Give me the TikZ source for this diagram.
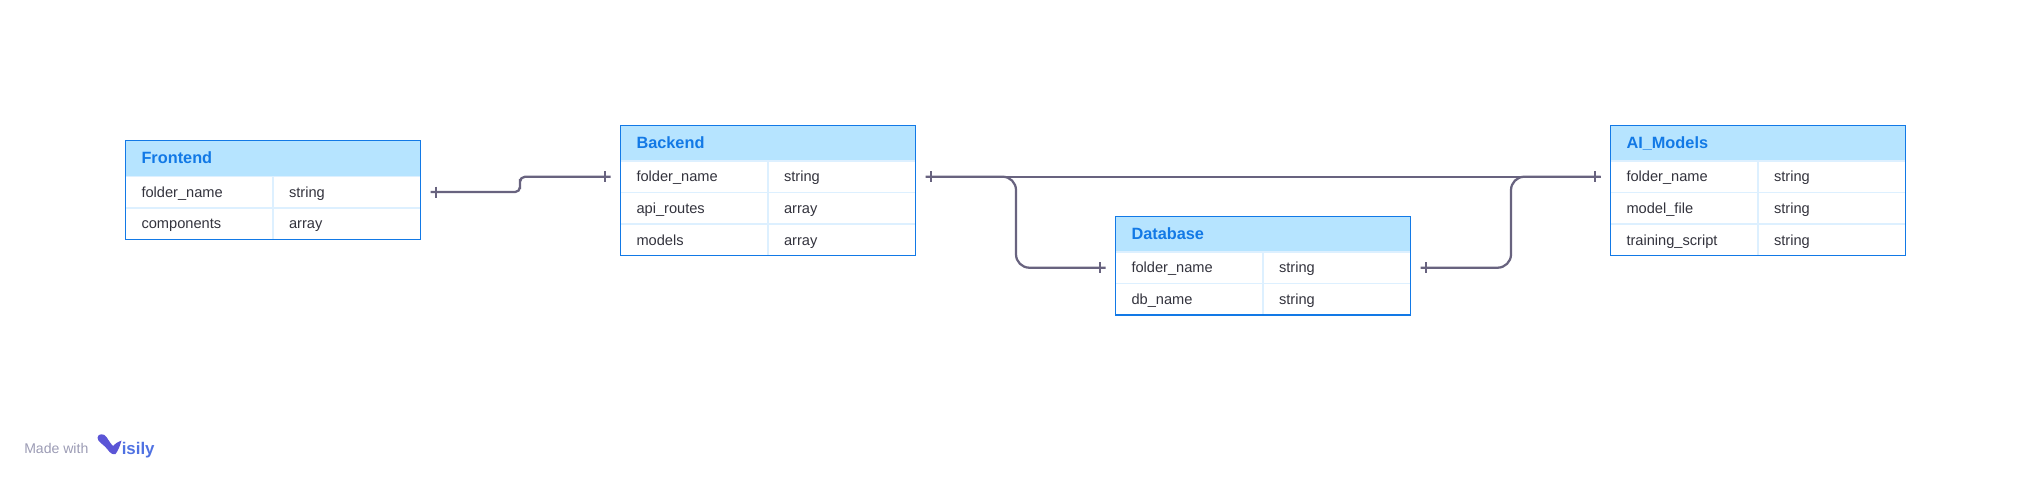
\documentclass[tikz,border=0pt]{standalone}
\usepackage{fontspec}
\setmainfont{Liberation Sans}
\definecolor{framecol}{HTML}{1279E6}
\definecolor{headcol}{HTML}{B6E4FF}
\definecolor{gridcol}{HTML}{DDF0FF}
\definecolor{linkcol}{HTML}{68637F}
\definecolor{cellcol}{HTML}{33333D}
\definecolor{madecol}{HTML}{9B9BB4}
\definecolor{logocol}{HTML}{5B55D6}
\definecolor{logotext}{HTML}{4F71E2}
\tikzset{
  headbox/.style={fill=headcol, minimum width=7.375cm, minimum height=0.89cm, inner xsep=0.4cm, outer sep=0pt,
    text width=6.575cm, align=left, text=framecol, font=\fontsize{11.6}{14}\selectfont\bfseries, text height=7.1pt, text depth=0pt},
  cellbox/.style={draw=gridcol, line width=1pt, minimum width=3.6875cm, minimum height=0.79cm, inner xsep=0.4cm, outer sep=0pt,
    text width=2.8875cm, align=left, text=cellcol, font=\fontsize{10.4}{13}\selectfont, text height=8.7pt, text depth=1.2pt},
  framebox/.style={draw=framecol, line width=0.95pt},
  linkline/.style={draw=linkcol, line width=1.6pt},
  tickline/.style={draw=linkcol, line width=1.3pt}
}
\begin{document}
\begin{tikzpicture}[x=0.025cm, y=-0.025cm]
        \useasboundingbox (0,0) rectangle (2030,480);

        % Frontend
        \node [headbox, anchor=north west] (fronthead) at (125.5,140.7) {Frontend};
        \node [cellbox, anchor=north west] (frontname) at (125.5,176.3) {folder\_name};
        \node [cellbox, anchor=north west] (frontnametype) at (273,176.3) {string};
        \node [cellbox, anchor=north west] (frontcomp) at (125.5,207.9) {components};
        \node [cellbox, anchor=north west] (frontcomptype) at (273,207.9) {array};
        \draw [framebox] (fronthead.north west) rectangle (frontcomptype.south east);

        % Backend
        \node [headbox, anchor=north west] (backhead) at (620.5,125.3) {Backend};
        \node [cellbox, anchor=north west] (backname) at (620.5,160.9) {folder\_name};
        \node [cellbox, anchor=north west] (backnametype) at (768,160.9) {string};
        \node [cellbox, anchor=north west] (backapi) at (620.5,192.5) {api\_routes};
        \node [cellbox, anchor=north west] (backapitype) at (768,192.5) {array};
        \node [cellbox, anchor=north west] (backmodels) at (620.5,224.1) {models};
        \node [cellbox, anchor=north west] (backmodelstype) at (768,224.1) {array};
        \draw [framebox] (backhead.north west) rectangle (backmodelstype.south east);

        % Database
        \node [headbox, anchor=north west] (dbhead) at (1115.5,216.3) {Database};
        \node [cellbox, anchor=north west] (dbfolder) at (1115.5,251.9) {folder\_name};
        \node [cellbox, anchor=north west] (dbfoldertype) at (1263,251.9) {string};
        \node [cellbox, anchor=north west] (dbname) at (1115.5,283.5) {db\_name};
        \node [cellbox, anchor=north west] (dbnametype) at (1263,283.5) {string};
        \draw [framebox] (dbhead.north west) rectangle (dbnametype.south east);

        % AI models
        \node [headbox, anchor=north west] (aihead) at (1610.5,125.3) {AI\_Models};
        \node [cellbox, anchor=north west] (ainame) at (1610.5,160.9) {folder\_name};
        \node [cellbox, anchor=north west] (ainametype) at (1758,160.9) {string};
        \node [cellbox, anchor=north west] (aimodel) at (1610.5,192.5) {model\_file};
        \node [cellbox, anchor=north west] (aimodeltype) at (1758,192.5) {string};
        \node [cellbox, anchor=north west] (aitrain) at (1610.5,224.1) {training\_script};
        \node [cellbox, anchor=north west] (aitraintype) at (1758,224.1) {string};
        \draw [framebox] (aihead.north west) rectangle (aitraintype.south east);

        % free ends of the connectors, 10 px off the tables
        \coordinate (frontout) at ([xshift=7.1pt]frontnametype.east);
        \coordinate (backin) at ([xshift=-7.1pt]backname.west);
        \coordinate (backout) at ([xshift=7.1pt]backnametype.east);
        \coordinate (dbin) at ([xshift=-7.1pt]dbfolder.west);
        \coordinate (dbout) at ([xshift=7.1pt]dbfoldertype.east);
        \coordinate (aiin) at ([xshift=-7.1pt]ainame.west);
        \coordinate (frontbend) at (520,184);
        \coordinate (backbend) at (1016,222);
        \coordinate (aibend) at (1511,222);

        \draw [linkline, rounded corners=3.6pt] (frontout) -| (frontbend) |- (backin);
        \draw [linkline] (backout) -- (aiin);
        \draw [linkline, rounded corners=9.5pt] (backout) -| (backbend) |- (dbin);
        \draw [linkline, rounded corners=9.5pt] (dbout) -| (aibend) |- (aiin);

        \draw [tickline] (frontout) ++(5.5,-5.5) -- ++(0,11);
        \draw [tickline] (backin) ++(-5.5,-5.5) -- ++(0,11);
        \draw [tickline] (backout) ++(5.5,-5.5) -- ++(0,11);
        \draw [tickline] (dbin) ++(-5.5,-5.5) -- ++(0,11);
        \draw [tickline] (dbout) ++(5.5,-5.5) -- ++(0,11);
        \draw [tickline] (aiin) ++(-5.5,-5.5) -- ++(0,11);

        % logo
        \node [anchor=base west, inner sep=0pt, text=madecol, font=\fontsize{10}{12}\selectfont] (madewith) at (24,453) {Made with};
        \fill [logocol] (97.5,437.5) .. controls (98,433.5) and (104,433) .. (106.5,437)
          .. controls (109,441) and (111,444) .. (113,446) .. controls (115,444) and (118,441.5) .. (121.5,440.5)
          .. controls (120,446) and (118,451) .. (115.5,454) .. controls (113,455) and (110,453) .. (108,450)
          .. controls (105,445) and (97,442) .. (97.5,437.5) -- cycle;
        \node [anchor=base west, inner sep=0pt, text=logotext, font=\fontsize{12}{15}\selectfont\bfseries] (logoname) at (121.5,454) {isily};
\end{tikzpicture}
\end{document}
